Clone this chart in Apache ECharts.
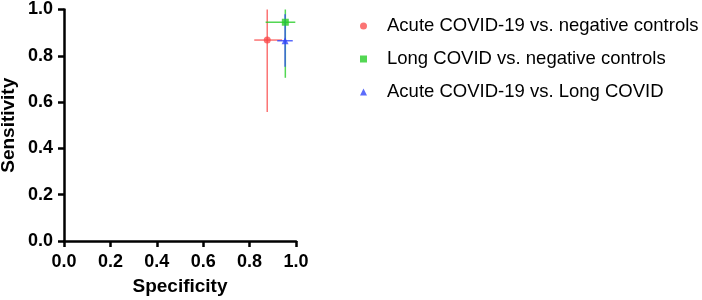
<!DOCTYPE html>
<html>
<head>
<meta charset="utf-8">
<script src="https://cdn.jsdelivr.net/npm/echarts@6/dist/echarts.min.js"></script>
<style>
  html, body { margin: 0; padding: 0; background: #fff; }
  #chart { width: 702px; height: 300px; }
</style>
</head>
<body>
<div id="chart"></div>
<script>
// comparisons, point estimates and 95% CI
const groups = [
  'Acute COVID-19 vs. negative controls',
  'Long COVID vs. negative controls',
  'Acute COVID-19 vs. Long COVID',
];
const specificity = [0.876, 0.954, 0.953];
const specLow = [0.82, 0.869, 0.919];
const specHigh = [0.94, 0.997, 0.986];
const sensitivity = [0.868, 0.945, 0.865];
const sensLow = [0.557, 0.705, 0.753];
const sensHigh = [1.0, 1.0, 0.979];

const colors = ['rgba(250,70,70,0.75)', 'rgba(40,205,40,0.8)', 'rgba(50,70,250,0.8)'];
const symbols = ['circle', 'rect', 'triangle'];
const font = 'Liberation Sans, Arial, sans-serif';

const chart = echarts.init(document.getElementById('chart'));

const axisCommon = {
  type: 'value',
  min: 0,
  max: 1,
  interval: 0.2,
  splitLine: { show: false },
  axisLine: { lineStyle: { color: '#000', width: 2.5 } },
  axisTick: { inside: false, length: 6, lineStyle: { color: '#000', width: 2.5 } },
  axisLabel: {
    color: '#000',
    fontFamily: font,
    fontWeight: 'bold',
    fontSize: 18,
    formatter: (v) => v.toFixed(1),
  },
  nameLocation: 'middle',
  nameTextStyle: { color: '#000', fontFamily: font, fontWeight: 'bold', fontSize: 19 },
};

// error bars drawn as a custom series, one per group
const errorSeries = groups.map((name, i) => ({
  type: 'custom',
  name: name + ' CI',
  silent: true,
  z: 1,
  data: [[specificity[i], sensitivity[i], specLow[i], specHigh[i], sensLow[i], sensHigh[i]]],
  renderItem(params, api) {
    const c = api.coord([api.value(0), api.value(1)]);
    const xl = api.coord([api.value(2), api.value(1)]);
    const xh = api.coord([api.value(3), api.value(1)]);
    const yl = api.coord([api.value(0), api.value(4)]);
    const yh = api.coord([api.value(0), api.value(5)]);
    const style = { stroke: colors[i], lineWidth: 1.5 };
    return {
      type: 'group',
      children: [
        { type: 'line', shape: { x1: xl[0], y1: c[1], x2: xh[0], y2: c[1] }, style },
        { type: 'line', shape: { x1: c[0], y1: yl[1], x2: c[0], y2: yh[1] }, style },
      ],
    };
  },
}));

const pointSeries = groups.map((name, i) => ({
  type: 'scatter',
  name,
  symbol: symbols[i],
  symbolSize: 7,
  z: 3,
  itemStyle: { color: colors[i], opacity: 1 },
  data: [[specificity[i], sensitivity[i]]],
}));

chart.setOption({
  animation: false,
  grid: { left: 64, right: 406, top: 9.5, bottom: 59, containLabel: false, outerBoundsMode: 'none' },
  xAxis: {
    ...axisCommon,
    name: 'Specificity',
    nameGap: 36,
    axisLabel: { ...axisCommon.axisLabel, margin: 12 },
  },
  yAxis: {
    ...axisCommon,
    name: 'Sensitivity',
    nameGap: 46,
    axisLabel: { ...axisCommon.axisLabel, margin: 11 },
  },
  legend: {
    orient: 'vertical',
    left: 355,
    top: 11,
    data: groups,
    itemWidth: 7,
    itemHeight: 7,
    itemGap: 13,
    selectedMode: false,
    textStyle: {
      color: '#000',
      fontFamily: font,
      fontSize: 18.5,
      lineHeight: 20,
      padding: [0, 0, 0, 15],
    },
  },
  series: [...errorSeries, ...pointSeries],
});
</script>
</body>
</html>
